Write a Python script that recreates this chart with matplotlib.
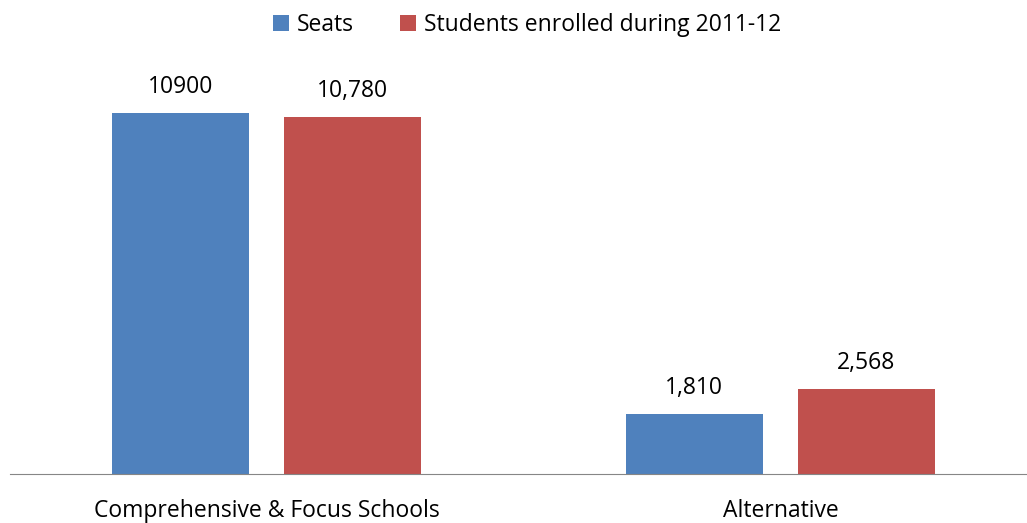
import matplotlib.pyplot as plt
import numpy as np

categories = ["Comprehensive & Focus Schools", "Alternative"]
seats = [10900, 1810]
students = [10780, 2568]
seat_labels = ["10900", "1,810"]
student_labels = ["10,780", "2,568"]

plt.rcParams['font.family'] = ['Open Sans', 'DejaVu Sans']

fig = plt.figure(figsize=(10.27, 5.23), dpi=100)
ax = fig.add_axes([10 / 1027, 49 / 523, 1017 / 1027, 414 / 523])

x = np.arange(len(categories))
w = 0.267
off = 0.1675
b1 = ax.bar(x - off, seats, w, color='#4f81bd', label='Seats')
b2 = ax.bar(x + off, students, w, color='#c0504d', label='Students enrolled during 2011-12')

for bar, lab in zip(b1, seat_labels):
    ax.annotate(lab, (bar.get_x() + bar.get_width() / 2, bar.get_height()),
                xytext=(0, 10), textcoords='offset points', ha='center', va='bottom', fontsize=16.5)
for bar, lab in zip(b2, student_labels):
    ax.annotate(lab, (bar.get_x() + bar.get_width() / 2, bar.get_height()),
                xytext=(0, 10), textcoords='offset points', ha='center', va='bottom', fontsize=16.5)

ax.set_xlim(-0.5, 1.48)
ax.set_ylim(0, 12500)
ax.set_yticks([])
ax.set_xticks(x)
ax.set_xticklabels(categories, fontsize=16.5)
ax.tick_params(axis='x', length=0, pad=18)
for s in ['top', 'right', 'left']:
    ax.spines[s].set_visible(False)
ax.spines['bottom'].set_color('#868686')

fig.legend(loc='upper center', bbox_to_anchor=(0.513, 1.015), ncol=2, frameon=False,
           fontsize=16.5, handlelength=0.7, handleheight=0.7, handletextpad=0.35, columnspacing=2.0)

fig.savefig('out.png', dpi=100)
